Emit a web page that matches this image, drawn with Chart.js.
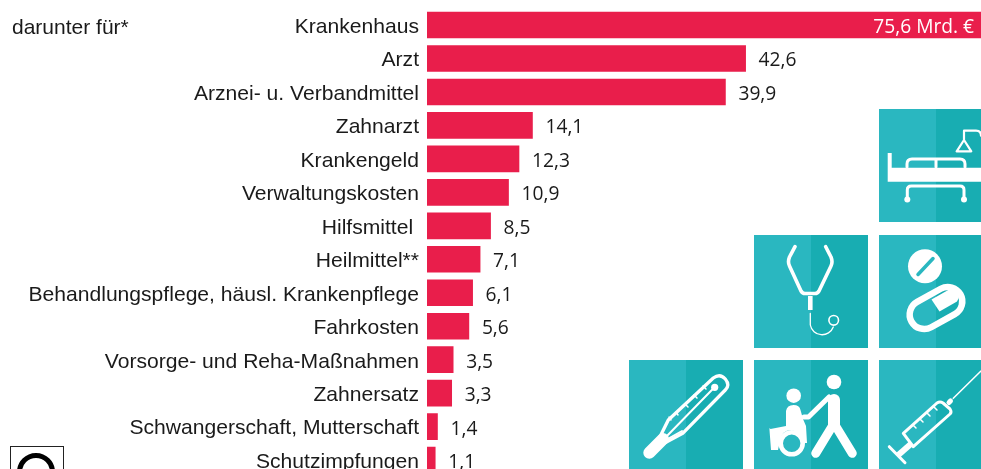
<!DOCTYPE html>
<html lang="de"><head><meta charset="utf-8">
<script src="https://cdn.jsdelivr.net/npm/chart.js@4"></script>
<style>
html,body{margin:0;padding:0;background:#fff;overflow:hidden;width:981px;height:469px}
#wrap{position:relative;width:981px;height:469px;overflow:hidden}
canvas{position:absolute;left:0;top:0}
#note{position:absolute;left:12px;top:14px;font:21px "Liberation Sans",sans-serif;color:#1a1a1a;line-height:26px}
svg{position:absolute;left:0;top:0}
</style></head><body>
<div id="wrap">
<canvas id="c" width="981" height="480"></canvas>
<div id="note">darunter für*</div>
<svg width="981" height="469" viewBox="0 0 981 469">
 <defs>
  <g id="t"><rect width="57" height="113" fill="#2ab7c0"/><rect x="57" width="57" height="113" fill="#18adb2"/></g>
 </defs>
 <use href="#t" x="879" y="109"/><use href="#t" x="754" y="235"/><use href="#t" x="879" y="235"/>
 <use href="#t" x="629" y="360"/><use href="#t" x="754" y="360"/><use href="#t" x="879" y="360"/>
 <g fill="none" stroke="#fff" stroke-linecap="round" stroke-linejoin="round">
  <!-- bed -->
  <path d="M887.7 153h4v14.7H981V181.7H887.7z" fill="#fff" stroke="none"/>
  <path d="M907 167V164q0-5 5-5H960q5 0 5 5v3M936 159v8" stroke-width="3"/>
  <path d="M907.3 199V190q0-4 4-4H960q4 0 4 4v9" stroke-width="3"/>
  <circle cx="907.3" cy="199.5" r="3" fill="#fff" stroke="none"/><circle cx="964" cy="199.5" r="3" fill="#fff" stroke="none"/>
  <path d="M964 140V130.7H976q5 0 5 5M964 140L956.7 151.3H971.3z" stroke-width="2.2"/>
  <!-- stethoscope -->
  <path d="M795 246.7L789.5 257q-2 5 0 9L801 291q1.5 2.5 4 2.5H815q2.5 0 4-2.5L831 266q2-4 0-9L825.7 246.7" stroke-width="3.6"/>
  <path d="M810.3 296V310" stroke-width="4.6" stroke-linecap="butt"/>
  <path d="M810.3 313.5V325a12 12 0 0 0 23 2" stroke-width="1.3"/>
  <circle cx="833.7" cy="320.3" r="4.8" stroke-width="1.6"/>
  <!-- pills -->
  <circle cx="925" cy="266.3" r="17" fill="#fff" stroke="none"/>
  <path d="M918 274.5L933 258.5" stroke="#2ab7c0" stroke-width="3.5"/>
  <rect x="-28" y="-14.5" width="56" height="29" rx="14.5" transform="translate(936 308) rotate(-29)" stroke-width="6.5"/>
  <path d="M931.5 299.5L939.5 311.5 957 301.5q3-4 1-9 -3-3-8-3.5z" fill="#fff" stroke="none"/>
  <!-- thermometer -->
  <path d="M649.3 452.7L663 439" stroke-width="12"/>
  <path d="M660 436.7L668.3 420 713.3 378q6.7-5 12 1 5 6 0 11L682.7 433.3 665 442.7z" stroke-width="3.3"/>
  <path d="M664 439L714.5 387.3M664 441L682 431" stroke-width="2"/>
  <circle cx="714.7" cy="387.3" r="3.6" fill="#fff" stroke="none"/>
  <path d="M703 386l3 3M694 395l3 3M685 404l3 3M676 412l2 3M669 417l2 3" stroke-width="1.5"/>
  <!-- wheelchair + walker -->
  <circle cx="793.7" cy="395.7" r="7.3" fill="#fff" stroke="none"/>
  <circle cx="834" cy="382" r="7.3" fill="#fff" stroke="none"/>
  <circle cx="791.7" cy="443.3" r="11" stroke-width="4.6"/>
  <path d="M770.5 429L786 426 786 411q1-6 7.5-6 6 0 7 5l2.5 9 3 7 1 17-5 0q-1-12-11-13-9 0-11 11l-2 9-7 0-1.5-20q0-1 0-2z" fill="#fff" stroke="none"/>
  <path d="M804 417H808.5L829 397" stroke-width="5"/>
  <path d="M834 400V425" stroke-width="12"/>
  <path d="M833 425L815.7 453.3M835 425L852.3 453.3" stroke-width="9"/>
  <!-- syringe -->
  <path d="M953.3 398.3L981 371" stroke-width="1.6"/>
  <path d="M949 402.5l1.5-1.5" stroke-width="5"/>
  <path d="M903.3 433.3L937 403q3-2 6 0l7 6q2 3 0 5L913.3 446.7z" stroke-width="3"/>
  <path d="M911.7 443.3L898.3 455" stroke-width="6" stroke-linecap="butt"/>
  <path d="M889.3 446.7L905 462.7" stroke-width="3"/>
  <path d="M934 407l3 3M927 413l3 3M920 419l3 3M913 425l3 3" stroke-width="1.5"/>
 </g>
 <rect x="10.5" y="446.5" width="53" height="30" fill="#fff" stroke="#222" stroke-width="1"/>
 <circle cx="36" cy="472" r="16.5" fill="none" stroke="#000" stroke-width="5"/>
</svg>
</div>
<script>
const categories = ["Krankenhaus","Arzt","Arznei- u. Verbandmittel","Zahnarzt","Krankengeld","Verwaltungskosten","Hilfsmittel ","Heilmittel**","Behandlungspflege, häusl. Krankenpflege","Fahrkosten","Vorsorge- und Reha-Maßnahmen","Zahnersatz","Schwangerschaft, Mutterschaft","Schutzimpfungen"];
const values = [75.6,42.6,39.9,14.1,12.3,10.9,8.5,7.1,6.1,5.6,3.5,3.3,1.4,1.1];
const valueLabels = ["75,6 Mrd. €","42,6","39,9","14,1","12,3","10,9","8,5","7,1","6,1","5,6","3,5","3,3","1,4","1,1"];

const labelPlugin = {
  id:'valueLabels',
  afterDatasetsDraw(chart){
    const {ctx,scales:{x,y},chartArea} = chart;
    ctx.save();
    ctx.font = '19.2px "Open Sans","Noto Sans",sans-serif';
    ctx.textBaseline = 'middle';
    values.forEach((v,i)=>{
      const py = y.getPixelForValue(i)+2.5;
      if(i===0){
        ctx.fillStyle='#fff';ctx.textAlign='right';
        ctx.fillText(valueLabels[i],chartArea.right-7,py);
      }else{
        ctx.fillStyle='#1a1a1a';ctx.textAlign='left';
        ctx.fillText(valueLabels[i],x.getPixelForValue(v)+13,py);
      }
    });
    ctx.restore();
  }
};
new Chart(document.getElementById('c'),{
  type:'bar',
  data:{labels:categories,datasets:[{data:values,backgroundColor:'#e91e4b',barThickness:26,borderWidth:0}]},
  plugins:[labelPlugin],
  options:{
    indexAxis:'y',responsive:false,animation:false,
    layout:{padding:{top:8.3,bottom:3.2,left:0,right:0}},
    plugins:{legend:{display:false},tooltip:{enabled:false}},
    scales:{
      x:{display:false,min:0,max:74.07,grid:{display:false}},
      y:{
        afterFit(s){s.width=427;s.paddingTop=0;s.paddingBottom=0;},
        grid:{display:false,drawTicks:false},border:{display:false},
        ticks:{autoSkip:false,padding:8,labelOffset:2,color:'#1a1a1a',font:{family:'"Liberation Sans",sans-serif',size:21.1}}
      }
    }
  }
});
</script>
</body></html>
